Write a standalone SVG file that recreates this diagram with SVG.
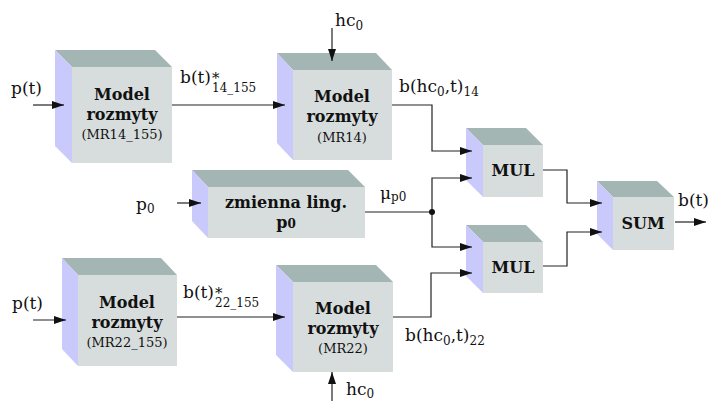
<svg xmlns="http://www.w3.org/2000/svg" width="709" height="401" viewBox="0 0 709 401">
  <style>
    .top { fill: #a3b6b4; }
    .side { fill: #c9c9fb; }
    .front { fill: #d7dddc; }
    text { font-family: "DejaVu Serif", "Liberation Serif", serif; fill: #111; }
    .bold { font-weight: bold; font-size: 16px; text-anchor: middle; }
    .small { font-size: 13px; text-anchor: middle; }
    .lbl { font-size: 17px; }
    .sub { font-size: 12px; }
    .wire { fill: none; stroke: #222; stroke-width: 1.2; }
    .arrow { fill: none; stroke: #222; stroke-width: 1.2; marker-end: url(#head); }
  </style>
  <defs>
    <marker id="head" viewBox="0 0 12 8" refX="12" refY="4" markerWidth="12" markerHeight="8" markerUnits="userSpaceOnUse" orient="auto">
      <path d="M0,0 L12,4 L0,8 Z" fill="#111"/>
    </marker>
  </defs>
  <rect width="709" height="401" fill="#ffffff"/>

  <!-- fuzzy model MR14_155 -->
  <g id="mr14_155">
    <polygon class="top" points="55,50 155,50 172,67 72,67"/>
    <polygon class="side" points="55,50 72,67 72,163 55,146"/>
    <rect class="front" x="72" y="67" width="100" height="96"/>
    <text class="bold" x="122" y="100">Model</text>
    <text class="bold" x="122" y="120">rozmyty</text>
    <text class="small" x="122" y="139">(MR14_155)</text>
  </g>

  <!-- fuzzy model MR14 -->
  <g id="mr14">
    <polygon class="top" points="277,53 376,53 392,70 293,70"/>
    <polygon class="side" points="277,53 293,70 293,160 277,143"/>
    <rect class="front" x="293" y="70" width="99" height="90"/>
    <text class="bold" x="342" y="102">Model</text>
    <text class="bold" x="342" y="122">rozmyty</text>
    <text class="small" x="342" y="142">(MR14)</text>
  </g>

  <!-- linguistic variable p0 -->
  <g id="ling_p0">
    <polygon class="top" points="192,170 348,170 365,187 208,187"/>
    <polygon class="side" points="192,170 208,187 208,238 192,221"/>
    <rect class="front" x="208" y="187" width="157" height="51"/>
    <text class="bold" x="286" y="208">zmienna ling.</text>
    <text class="bold" x="286" y="228">p<tspan font-size="12">0</tspan></text>
  </g>

  <!-- fuzzy model MR22_155 -->
  <g id="mr22_155">
    <polygon class="top" points="62,258 161,258 177,275 78,275"/>
    <polygon class="side" points="62,258 78,275 78,366 62,349"/>
    <rect class="front" x="78" y="275" width="99" height="91"/>
    <text class="bold" x="127" y="308">Model</text>
    <text class="bold" x="127" y="328">rozmyty</text>
    <text class="small" x="127" y="347">(MR22_155)</text>
  </g>

  <!-- fuzzy model MR22 -->
  <g id="mr22">
    <polygon class="top" points="276,265 376,265 393,282 293,282"/>
    <polygon class="side" points="276,265 293,282 293,372 276,355"/>
    <rect class="front" x="293" y="282" width="100" height="90"/>
    <text class="bold" x="343" y="314">Model</text>
    <text class="bold" x="343" y="334">rozmyty</text>
    <text class="small" x="343" y="353">(MR22)</text>
  </g>

  <!-- multipliers -->
  <g id="mul1">
    <polygon class="top" points="466,128 526,128 543,145 483,145"/>
    <polygon class="side" points="466,128 483,145 483,197 466,180"/>
    <rect class="front" x="483" y="145" width="60" height="52"/>
    <text class="bold" x="513" y="176">MUL</text>
  </g>
  <g id="mul2">
    <polygon class="top" points="466,225 526,225 543,242 483,242"/>
    <polygon class="side" points="466,225 483,242 483,293 466,276"/>
    <rect class="front" x="483" y="242" width="60" height="51"/>
    <text class="bold" x="513" y="273">MUL</text>
  </g>

  <!-- summation -->
  <g id="sum">
    <polygon class="top" points="597,181 657,181 674,197 613,197"/>
    <polygon class="side" points="597,181 613,197 613,250 597,234"/>
    <rect class="front" x="613" y="197" width="61" height="53"/>
    <text class="bold" x="643" y="229">SUM</text>
  </g>

  <!-- connectors -->
  <g id="connectors">
    <line class="arrow" x1="33" y1="105" x2="64" y2="105"/>
    <line class="arrow" x1="172" y1="105" x2="285" y2="105"/>
    <line class="arrow" x1="332" y1="28" x2="332" y2="61"/>
    <polyline class="arrow" points="392,105 432,105 432,151 472,151"/>
    <line class="arrow" x1="177" y1="203" x2="201" y2="203"/>
    <line class="wire" x1="365" y1="212" x2="432" y2="212"/>
    <polyline class="arrow" points="432,212 432,178 472,178"/>
    <polyline class="arrow" points="432,212 432,247 472,247"/>
    <circle cx="432" cy="212" r="3" fill="#111"/>
    <line class="arrow" x1="33" y1="320" x2="66" y2="320"/>
    <line class="arrow" x1="177" y1="317" x2="285" y2="317"/>
    <polyline class="arrow" points="393,317 431,317 431,273 472,273"/>
    <line class="arrow" x1="332" y1="401" x2="332" y2="372"/>
    <polyline class="arrow" points="543,170 567,170 567,203 602,203"/>
    <polyline class="arrow" points="543,266 567,266 567,232 602,232"/>
    <line class="arrow" x1="675" y1="222" x2="706" y2="222"/>
  </g>

  <!-- signal labels -->
  <g id="labels">
    <text class="lbl" x="11" y="94">p(t)</text>
    <text class="lbl" x="180" y="83">b(t)<tspan x="212" y="83" font-size="15">*</tspan><tspan class="sub" x="212" y="92">14_155</tspan></text>
    <text class="lbl" x="335" y="26">hc<tspan class="sub" dy="4">0</tspan></text>
    <text class="lbl" x="399" y="92">b(hc<tspan class="sub" dy="4">0</tspan><tspan dy="-4">,t)</tspan><tspan class="sub" dy="4">14</tspan></text>
    <text class="lbl" x="136" y="210">p<tspan class="sub" dy="3">0</tspan></text>
    <text class="lbl" x="380" y="199" font-size="15">μ<tspan class="sub" font-size="11" dy="2">p0</tspan></text>
    <text class="lbl" x="678" y="206">b(t)</text>
    <text class="lbl" x="12" y="309">p(t)</text>
    <text class="lbl" x="183" y="298">b(t)<tspan x="215" y="298" font-size="15">*</tspan><tspan class="sub" x="215" y="307">22_155</tspan></text>
    <text class="lbl" x="405" y="341">b(hc<tspan class="sub" dy="4">0</tspan><tspan dy="-4">,t)</tspan><tspan class="sub" dy="4">22</tspan></text>
    <text class="lbl" x="346" y="395">hc<tspan class="sub" dy="3">0</tspan></text>
  </g>
</svg>
